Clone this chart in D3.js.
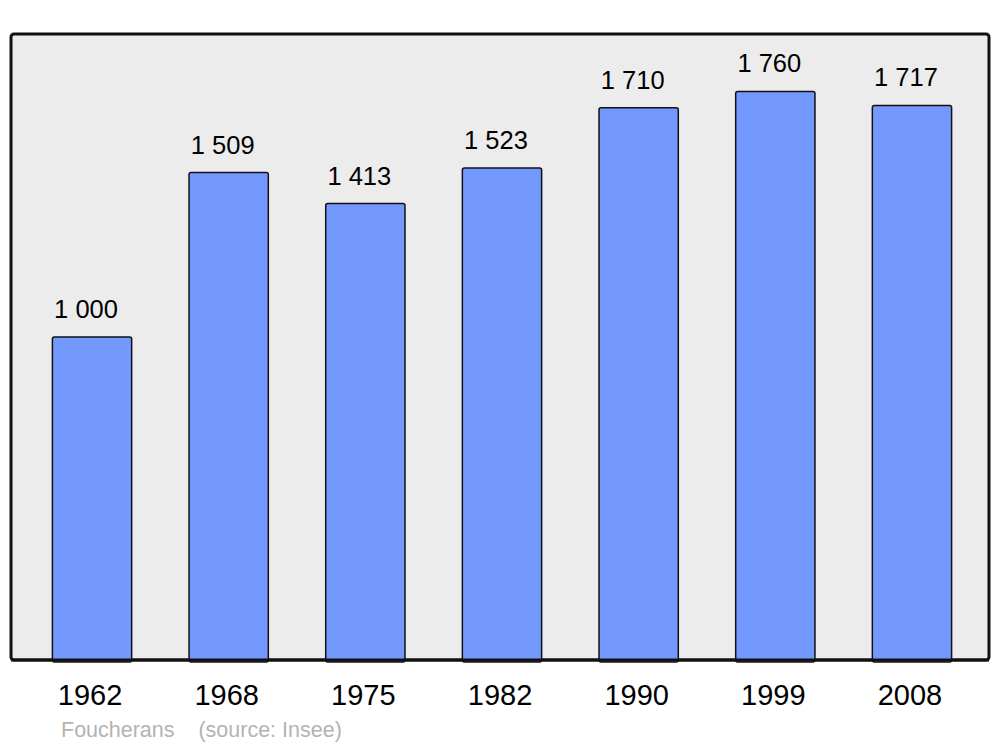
<!DOCTYPE html>
<html lang="fr">
<head>
  <meta charset="utf-8">
  <script src="https://d3js.org/d3.v7.min.js"></script>
  <style>
    body { margin: 0; background: #fff; }
    text { font-family: "Liberation Sans", Arial, sans-serif; }
  </style>
</head>
<body>
<svg width="1000" height="747"></svg>
<script>
  var years = ["1962", "1968", "1975", "1982", "1990", "1999", "2008"];
  var population = [1000, 1509, 1413, 1523, 1710, 1760, 1717];
  var valueLabels = ["1 000", "1 509", "1 413", "1 523", "1 710", "1 760", "1 717"];

  var svg = d3.select("svg");

  // plot frame
  var plotLeft = 11, plotRight = 989, plotTop = 34, plotBottom = 660;

  svg.append("rect")
    .attr("x", plotLeft).attr("y", plotTop)
    .attr("width", plotRight - plotLeft).attr("height", plotBottom - plotTop)
    .attr("rx", 3)
    .attr("fill", "#ececec")
    .attr("stroke", "#111").attr("stroke-width", 3);

  var x = d3.scaleBand()
    .domain(years)
    .range([23.7, 980.3])
    .paddingInner(0.42)
    .paddingOuter(0.21);

  var y = d3.scaleLinear()
    .domain([0, 1938])
    .range([plotBottom, plotTop]);

  var g = svg.append("g");

  // bars
  g.selectAll("rect.bar")
    .data(population)
    .enter()
    .append("rect")
    .attr("class", "bar")
    .attr("x", function(d, i) { return x(years[i]); })
    .attr("y", function(d) { return y(d); })
    .attr("width", x.bandwidth())
    .attr("height", function(d) { return plotBottom - y(d) + 2; })
    .attr("rx", 2)
    .attr("fill", "#7399ff")
    .attr("stroke", "#111")
    .attr("stroke-width", 1.5);

  // redraw bottom frame edge over bars
  svg.append("line")
    .attr("x1", plotLeft).attr("x2", plotRight)
    .attr("y1", plotBottom).attr("y2", plotBottom)
    .attr("stroke", "#111").attr("stroke-width", 3);

  // value labels
  g.selectAll("text.val")
    .data(population)
    .enter()
    .append("text")
    .attr("class", "val")
    .attr("x", function(d, i) { return x(years[i]) + x.bandwidth() / 2 - 6; })
    .attr("y", function(d) { return y(d) - 19; })
    .attr("text-anchor", "middle")
    .attr("font-size", 25.5)
    .attr("fill", "#000")
    .text(function(d, i) { return valueLabels[i]; });

  // year labels
  var xAxis = d3.axisBottom(x).tickSize(0).tickPadding(0);
  var ax = svg.append("g")
    .attr("transform", "translate(-2,0)")
    .call(xAxis);
  ax.select(".domain").remove();
  ax.selectAll("text")
    .attr("y", 705)
    .attr("dy", null)
    .attr("font-size", 29)
    .attr("font-family", "Liberation Sans, Arial, sans-serif")
    .attr("fill", "#000");

  // footer
  svg.append("text")
    .attr("x", 61).attr("y", 737)
    .attr("font-size", 21.5)
    .attr("fill", "#b3b3b3")
    .attr("xml:space", "preserve")
    .text("Foucherans    (source: Insee)");
</script>
</body>
</html>
